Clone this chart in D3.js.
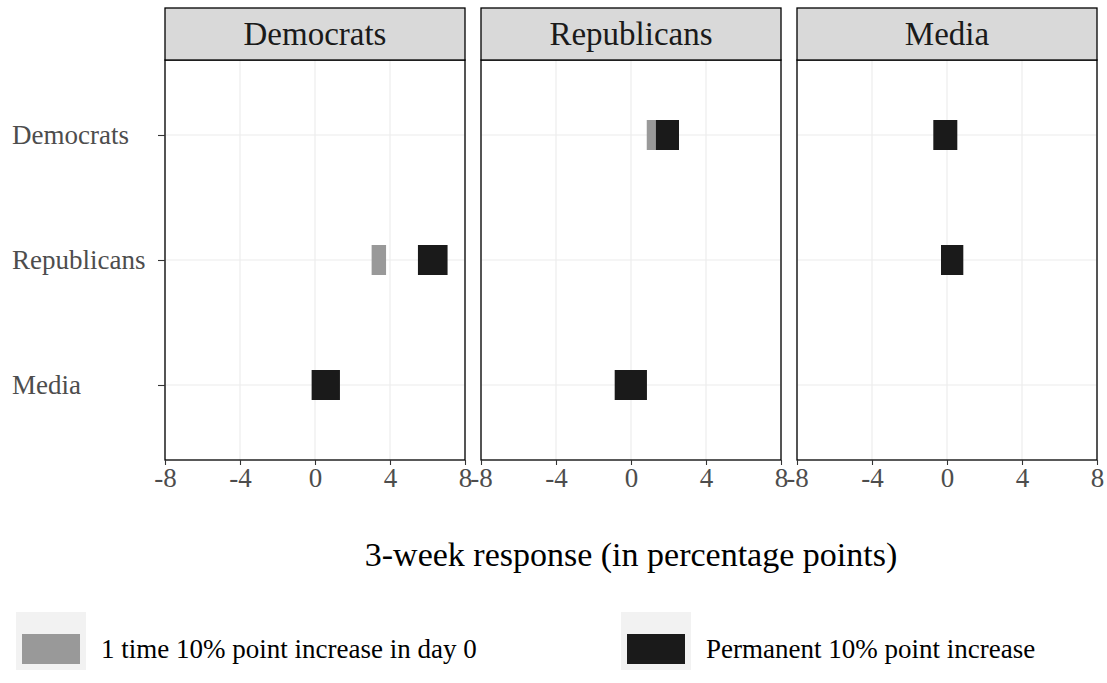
<!DOCTYPE html>
<html>
<head>
<meta charset="utf-8">
<script src="https://cdn.jsdelivr.net/npm/d3@7"></script>
<style>
  body { margin: 0; background: #fff; }
  text { font-family: "Liberation Serif", "DejaVu Serif", serif; }
</style>
</head>
<body>
<div id="chart"></div>
<script>
// facets (who responds) and rows (who is shocked)
const panels = ["Democrats", "Republicans", "Media"];
const groups = ["Democrats", "Republicans", "Media"];
const xTicks = [-8, -4, 0, 4, 8];
const seriesNames = ["1 time 10% point increase in day 0", "Permanent 10% point increase"];
const seriesColors = ["#999999", "#1a1a1a"];

// [panel, group, low, high]
const oneTime = [
  ["Democrats", "Republicans", 3.02, 3.79],
  ["Democrats", "Media", 0.1, 0.8],
  ["Republicans", "Democrats", 0.84, 1.5],
  ["Republicans", "Media", -0.5, 0.4],
  ["Media", "Democrats", -0.4, 0.3],
  ["Media", "Republicans", 0.0, 0.6]
];
const permanent = [
  ["Democrats", "Republicans", 5.49, 7.07],
  ["Democrats", "Media", -0.18, 1.33],
  ["Republicans", "Democrats", 1.33, 2.56],
  ["Republicans", "Media", -0.87, 0.85],
  ["Media", "Democrats", -0.73, 0.55],
  ["Media", "Republicans", -0.32, 0.87]
];

const W = 1107, H = 683;
const panelW = 300, gap = 16, left0 = 165;
const stripTop = 8, plotTop = 60, plotBottom = 460;

const svg = d3.select("#chart").append("svg")
  .attr("width", W).attr("height", H);

const x = d3.scaleLinear().domain([-8, 8]).range([0, panelW]);
// discrete axis with ggplot style expansion of 0.6
const y = d3.scaleLinear().domain([0.4, 3.6]).range([plotTop, plotBottom]);
const yPos = g => y(groups.indexOf(g) + 1);
const boxH = 30;

panels.forEach((p, i) => {
  const g = svg.append("g").attr("transform", "translate(" + (left0 + i * (panelW + gap)) + ",0)");

  // grid
  g.selectAll(".vg").data(xTicks).enter().append("line")
    .attr("x1", d => x(d)).attr("x2", d => x(d))
    .attr("y1", plotTop).attr("y2", plotBottom)
    .attr("stroke", "#ebebeb").attr("stroke-width", 1.1);
  g.selectAll(".hg").data(groups).enter().append("line")
    .attr("x1", 0).attr("x2", panelW)
    .attr("y1", d => yPos(d)).attr("y2", d => yPos(d))
    .attr("stroke", "#ebebeb").attr("stroke-width", 1.1);

  // bars
  [oneTime, permanent].forEach((series, si) => {
    g.selectAll(".s" + si).data(series.filter(d => d[0] === p)).enter().append("rect")
      .attr("x", d => x(d[2]))
      .attr("width", d => x(d[3]) - x(d[2]))
      .attr("y", d => yPos(d[1]) - boxH / 2)
      .attr("height", boxH)
      .attr("fill", seriesColors[si]);
  });

  // panel border
  g.append("rect").attr("x", 0).attr("y", plotTop)
    .attr("width", panelW).attr("height", plotBottom - plotTop)
    .attr("fill", "none").attr("stroke", "#000").attr("stroke-width", 1.3);

  // strip
  g.append("rect").attr("x", 0).attr("y", stripTop)
    .attr("width", panelW).attr("height", plotTop - stripTop)
    .attr("fill", "#d9d9d9").attr("stroke", "#000").attr("stroke-width", 1.3);
  g.append("text").attr("x", panelW / 2).attr("y", 45)
    .attr("text-anchor", "middle").attr("font-size", 33).attr("fill", "#1a1a1a")
    .text(p);

  // x axis
  const ax = g.append("g").attr("transform", "translate(0," + plotBottom + ")")
    .call(d3.axisBottom(x).tickValues(xTicks).tickSize(5).tickPadding(3).tickFormat(d3.format("d")));
  ax.select(".domain").remove();
  ax.selectAll("line").attr("stroke", "#333").attr("stroke-width", 1.1);
  ax.selectAll("text").attr("font-size", 27).attr("fill", "#4d4d4d")
    .style("font-family", "Liberation Serif, serif").text(d => String(d).replace("−", "-"));

  if (i === 0) {
    const ay = g.append("g")
      .call(d3.axisLeft(y).tickValues([1, 2, 3]).tickSize(7).tickPadding(6).tickFormat(d => groups[d - 1]));
    ay.select(".domain").remove();
    ay.selectAll("line").attr("stroke", "#333").attr("stroke-width", 1.1);
    ay.selectAll("text").attr("font-size", 27).attr("fill", "#4d4d4d")
      .attr("text-anchor", "start").attr("x", -153)
      .style("font-family", "Liberation Serif, serif");
  }
});

// x axis title
svg.append("text").attr("x", left0 + (3 * panelW + 2 * gap) / 2).attr("y", 566)
  .attr("text-anchor", "middle").attr("font-size", 34).attr("fill", "#000")
  .text("3-week response (in percentage points)");

// legend
const legX = [16, 621];
seriesNames.forEach((name, i) => {
  const lg = svg.append("g").attr("transform", "translate(" + legX[i] + ",612)");
  lg.append("rect").attr("width", 70).attr("height", 58).attr("fill", "#f2f2f2");
  lg.append("rect").attr("x", 6).attr("y", 22).attr("width", 58).attr("height", 30)
    .attr("fill", seriesColors[i]);
  lg.append("text").attr("x", 85).attr("y", 46)
    .attr("font-size", 27).attr("fill", "#000").text(name);
});
</script>
</body>
</html>
